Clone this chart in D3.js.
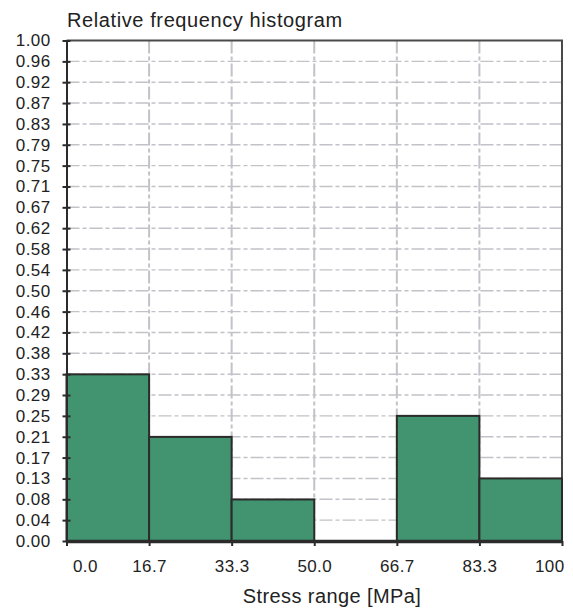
<!DOCTYPE html>
<html>
<head>
<meta charset="utf-8">
<script src="https://cdn.jsdelivr.net/npm/d3@7"></script>
<style>
    html, body { margin: 0; padding: 0; background: #fff; }
    #chart { width: 573px; height: 609px; }
    text { font-family: Arial, "Liberation Sans", Helvetica, sans-serif; fill: #222; }
</style>
</head>
<body>
<div id="chart"></div>
<script>
///// DATOS /////
let binEdges = [0, 16.67, 33.33, 50, 66.67, 83.33, 100];
let xTickLabels = ['0.0', '16.7', '33.3', '50.0', '66.7', '83.3', '100'];
let frequencies = [0.333, 0.208, 0.083, 0, 0.25, 0.125];
let yTickValues = [0, 0.0417, 0.0833, 0.125, 0.1667, 0.2083, 0.25, 0.2917, 0.3333, 0.375, 0.4167, 0.4583, 0.5,
    0.5417, 0.5833, 0.625, 0.6667, 0.7083, 0.75, 0.7917, 0.8333, 0.875, 0.9167, 0.9583, 1];
let yTickLabels = ['0.00', '0.04', '0.08', '0.13', '0.17', '0.21', '0.25', '0.29', '0.33', '0.38', '0.42', '0.46', '0.50',
    '0.54', '0.58', '0.62', '0.67', '0.71', '0.75', '0.79', '0.83', '0.87', '0.92', '0.96', '1.00'];

let bins = frequencies.map(function(f, i) {
    return {x0: binEdges[i], x1: binEdges[i + 1], valor: f};
});

///// GRÁFICO /////
let margin = {top: 40.5, right: 11, bottom: 68, left: 66.5};
let width = 573 - margin.left - margin.right,
    height = 609 - margin.top - margin.bottom;
let gridColor = '#c2c2c8', axisColor = '#2b2b2b', barColor = '#41946f';

let svg = d3.select('#chart')
    .append('svg')
        .attr('width', 573)
        .attr('height', 609);

let chart = svg.append('g')
    .attr('transform', 'translate(' + margin.left + ',' + margin.top + ')');

let x_c = d3.scaleLinear().domain([0, 100]).range([0, width]);
let y_c = d3.scaleLinear().domain([0, 1]).range([height, 0]);

//Rejilla horizontal
chart.append('g')
    .selectAll('line')
    .data(yTickValues.slice(1, -1))
    .enter()
    .append('line')
        .attr('x1', 0)
        .attr('x2', width)
        .attr('y1', function(d) { return y_c(d); })
        .attr('y2', function(d) { return y_c(d); })
        .attr('stroke', gridColor)
        .attr('stroke-width', 1.4)
        .attr('stroke-dasharray', '13,3,4,3');

//Rejilla vertical
chart.append('g')
    .selectAll('line')
    .data(binEdges.slice(1, -1))
    .enter()
    .append('line')
        .attr('x1', function(d) { return x_c(d); })
        .attr('x2', function(d) { return x_c(d); })
        .attr('y1', 0)
        .attr('y2', height)
        .attr('stroke', gridColor)
        .attr('stroke-width', 2)
        .attr('stroke-dasharray', '13,3,4,3');

//Marco superior y derecho
chart.append('path')
    .attr('d', 'M0,0H' + width + 'V' + height)
    .attr('fill', 'none')
    .attr('stroke', '#4a4a4a')
    .attr('stroke-width', 2);

//Barras
chart.selectAll('.bar')
    .data(bins)
    .enter()
    .append('rect')
        .attr('class', 'bar')
        .attr('x', function(d) { return x_c(d.x0); })
        .attr('width', function(d) { return x_c(d.x1) - x_c(d.x0); })
        .attr('y', function(d) { return y_c(d.valor); })
        .attr('height', function(d) { return height - y_c(d.valor); })
        .attr('fill', barColor)
        .attr('stroke', axisColor)
        .attr('stroke-width', 2);

//Eje Y
let yAxis = chart.append('g')
    .call(d3.axisLeft(y_c)
        .tickValues(yTickValues)
        .tickFormat(function(d, i) { return yTickLabels[i]; })
        .tickSizeInner(4)
        .tickSizeOuter(0)
        .tickPadding(12));

yAxis.select('.domain').attr('stroke', axisColor).attr('stroke-width', 2);
yAxis.selectAll('.tick line').attr('x1', 4).attr('stroke', axisColor).attr('stroke-width', 2);
yAxis.selectAll('.tick text')
    .attr('fill', '#222')
    .style('font-size', '17px')
    .style('letter-spacing', '0.4px');

//Eje X
let xAxis = chart.append('g')
    .attr('transform', 'translate(0,' + height + ')')
    .call(d3.axisBottom(x_c)
        .tickValues(binEdges)
        .tickFormat(function(d, i) { return xTickLabels[i]; })
        .tickSizeInner(5)
        .tickSizeOuter(0)
        .tickPadding(14));

xAxis.select('.domain').attr('stroke', axisColor).attr('stroke-width', 3.5);
xAxis.selectAll('.tick line').attr('stroke', axisColor).attr('stroke-width', 2);
xAxis.selectAll('.tick text')
    .attr('fill', '#222')
    .style('font-size', '17px')
    .style('letter-spacing', '0.4px')
    .attr('text-anchor', function(d, i) {
        if (i == 0) { return 'start'; }
        if (i == binEdges.length - 1) { return 'end'; }
        return 'middle';
    })
    .attr('x', function(d, i) {
        if (i == 0) { return 6; }
        if (i == binEdges.length - 1) { return 2; }
        return 0;
    });

//Títulos
svg.append('text')
    .attr('x', 67)
    .attr('y', 27)
    .style('font-size', '20px')
    .style('letter-spacing', '0.6px')
    .text('Relative frequency histogram');

svg.append('text')
    .attr('x', 332)
    .attr('y', 603)
    .attr('text-anchor', 'middle')
    .style('font-size', '20px')
    .style('letter-spacing', '0.4px')
    .text('Stress range [MPa]');
</script>
</body>
</html>
